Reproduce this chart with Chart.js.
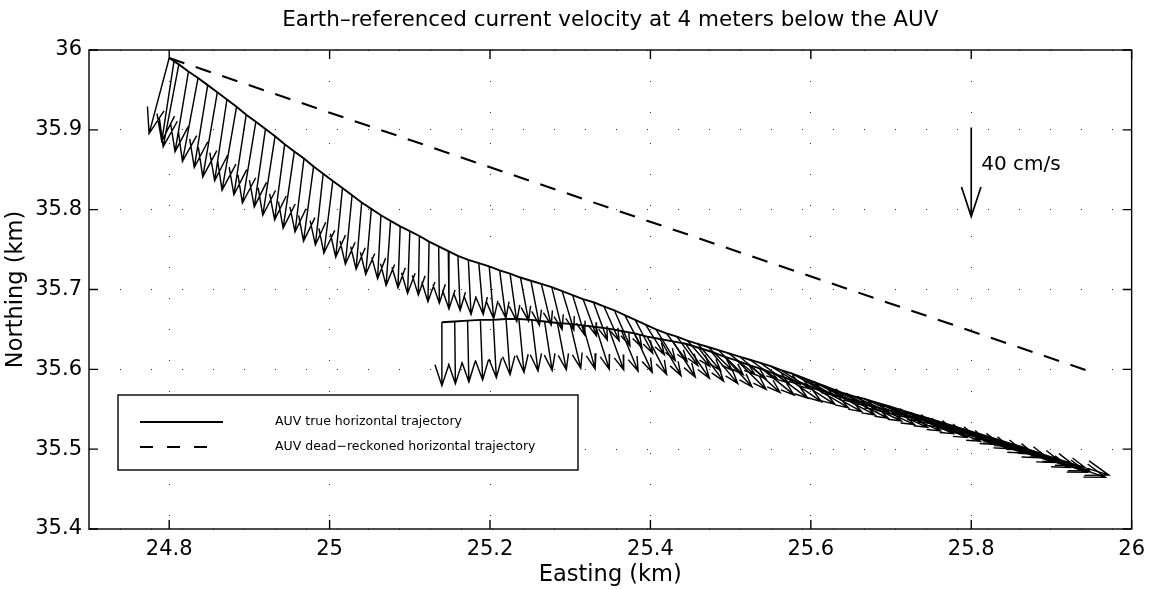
<!DOCTYPE html>
<html>
<head>
<meta charset="utf-8">
<script src="https://cdn.jsdelivr.net/npm/chart.js@4.4.1/dist/chart.umd.min.js"></script>
<style>
  html, body { margin: 0; padding: 0; background: #fff; }
  #wrap { width: 1153px; height: 590px; }
</style>
</head>
<body>
<div id="wrap"><canvas id="chart" width="1153" height="590"></canvas></div>
<script>
// axis ticks
const xTicks = [24.8, 25, 25.2, 25.4, 25.6, 25.8, 26];
const yTicks = [35.4, 35.5, 35.6, 35.7, 35.8, 35.9, 36];
const title = 'Earth\u2013referenced current velocity at 4 meters below the AUV';

// dead-reckoned trajectory (km)
const drEast = [24.800, 25.946];
const drNorth = [35.990, 35.598];

// true trajectory, first leg (km) and current at 4 m below (cm/s)
const leg1East = [24.800, 24.806, 24.812, 24.824, 24.836, 24.848, 24.860, 24.872, 24.884, 24.896, 24.908,
  24.920, 24.932, 24.944, 24.956, 24.968, 24.980, 24.992, 25.004, 25.016, 25.028, 25.040, 25.052, 25.064,
  25.076, 25.088, 25.100, 25.112, 25.124, 25.136, 25.148, 25.160, 25.173, 25.186, 25.199, 25.212, 25.225,
  25.238, 25.251, 25.264, 25.277, 25.290, 25.303, 25.316, 25.329, 25.342, 25.355, 25.368, 25.381, 25.394,
  25.407, 25.420, 25.433, 25.446, 25.459, 25.472, 25.485, 25.498, 25.511, 25.524, 25.537, 25.550, 25.563,
  25.576, 25.589, 25.602, 25.615, 25.628, 25.641, 25.654, 25.667, 25.680, 25.693, 25.706, 25.719, 25.732,
  25.745, 25.758, 25.771, 25.784, 25.797, 25.810, 25.823, 25.836, 25.849, 25.862, 25.875, 25.888];
const leg1North = [35.990, 35.986, 35.982, 35.973, 35.965, 35.956, 35.947, 35.938, 35.929, 35.919, 35.910,
  35.901, 35.892, 35.882, 35.873, 35.864, 35.854, 35.845, 35.836, 35.827, 35.818, 35.809, 35.801, 35.793,
  35.786, 35.779, 35.773, 35.767, 35.760, 35.754, 35.748, 35.742, 35.737, 35.733, 35.729, 35.724, 35.720,
  35.715, 35.711, 35.707, 35.703, 35.698, 35.693, 35.688, 35.684, 35.679, 35.674, 35.668, 35.662, 35.656,
  35.650, 35.645, 35.641, 35.636, 35.632, 35.628, 35.624, 35.620, 35.616, 35.612, 35.608, 35.604, 35.599,
  35.595, 35.590, 35.585, 35.580, 35.575, 35.570, 35.566, 35.563, 35.559, 35.555, 35.551, 35.547, 35.543,
  35.539, 35.535, 35.531, 35.527, 35.523, 35.519, 35.515, 35.511, 35.507, 35.503, 35.498, 35.494];
const leg1U = [-9, -5.5, -7, -6, -7, -6, -6.5, -5.5, -6.5, -5.5, -6,
  -5, -5.5, -4.5, -5, -4, -4.5, -3.5, -4, -3, -3, -2.5, -2.5, -1.5,
  -2, -1, -1, -0.5, -0.5, 0.3, 0.3, 1, 1.2, 2, 2, 2.8, 3,
  3.6, 3.8, 4.4, 4.6, 5.2, 5.4, 6, 6.2, 6.8, 7, 7.6, 7.8, 8.4,
  8.6, 9.2, 9.4, 10, 10.2, 10.8, 11, 11.6, 11.8, 12.4, 12.6, 13.2, 13.3,
  13.8, 13.9, 14.4, 14.5, 15, 15, 15.4, 15.4, 15.6, 15.6, 15.8, 15.8, 16.1,
  16.2, 16.6, 17, 17.6, 18, 19, 20, 21, 22.5, 24, 26, 30];
const leg1V = [-34, -36, -37, -36, -37.5, -37, -38, -36.5, -37.5, -36, -36.5,
  -35, -35.5, -34, -34.5, -33, -33.5, -32, -32.5, -31, -31, -30, -29.5, -28.5,
  -29, -27.5, -28, -26.5, -27, -25.5, -26, -24.5, -24.5, -23, -23.5, -21.5, -21.5,
  -19.5, -20, -18.5, -19, -17.5, -18, -16.5, -17, -15.5, -16, -14.5, -15, -13.5,
  -14, -12.5, -13, -11.5, -12, -10.5, -11, -9.5, -10, -8.8, -9, -8.2, -8.5,
  -7.8, -8, -7.4, -7.6, -7.2, -7.4, -7, -7.2, -6.8, -7, -6.7, -6.9, -6.5,
  -6.7, -6.5, -6.8, -6.7, -7, -7.1, -7.6, -7.7, -8.3, -8.5, -9.1, -9.5];

// true trajectory, return leg (km) and current (cm/s)
const leg2East = [25.892, 25.876, 25.860, 25.844, 25.828, 25.812, 25.796, 25.780, 25.764, 25.748, 25.732,
  25.716, 25.700, 25.684, 25.668, 25.652, 25.636, 25.620, 25.604, 25.588, 25.572, 25.556, 25.540, 25.524,
  25.508, 25.492, 25.476, 25.460, 25.444, 25.428, 25.412, 25.396, 25.380, 25.364, 25.348, 25.332, 25.316,
  25.300, 25.284, 25.268, 25.252, 25.236, 25.220, 25.204, 25.188, 25.172, 25.156, 25.140];
const leg2North = [35.490, 35.495, 35.500, 35.505, 35.510, 35.515, 35.520, 35.525, 35.529, 35.534, 35.539,
  35.543, 35.548, 35.552, 35.557, 35.561, 35.566, 35.571, 35.577, 35.583, 35.588, 35.594, 35.600, 35.605,
  35.611, 35.616, 35.622, 35.627, 35.632, 35.635, 35.638, 35.641, 35.645, 35.648, 35.651, 35.653, 35.655,
  35.657, 35.658, 35.660, 35.662, 35.663, 35.663, 35.662, 35.662, 35.661, 35.660, 35.659];
const leg2U = [27, 24.5, 22.5, 21, 19.8, 18.8, 18, 17.4, 17, 16.7, 16.5,
  16.4, 16.3, 16.2, 16.1, 16, 15.8, 15.6, 15.4, 15.1, 14.8, 14.4, 14, 13.5,
  13, 12.4, 11.8, 11.2, 10.6, 10, 9.4, 8.7, 8, 7.4, 6.7, 6, 5.4,
  4.7, 4, 3.4, 2.8, 2.3, 1.8, 1.4, 1, 0.6, 0.3, 0];
const leg2V = [-9, -8.6, -8.2, -7.8, -7.4, -7.1, -6.9, -6.8, -6.8, -6.9, -7,
  -7.2, -7.4, -7.6, -7.8, -8, -8.3, -8.6, -9, -9.6, -10.2, -10.8, -11.5, -12.2,
  -13, -13.6, -14.3, -15, -15.5, -16, -16.5, -17, -17.5, -18, -18.5, -19, -19.5,
  -20, -21, -22, -23, -24, -25, -26, -27, -27.5, -28, -28.5];

// scale arrow
const refEast = [25.8];
const refNorth = [35.903];
const refU = [0];
const refV = [-40];
const refLabel = '40 cm/s';

const KM_PER_CMS = 0.1115 / 40;

function quiver(east, north, u, v) {
  const pts = [];
  for (let i = 0; i < east.length; i++) {
    const du = u[i] * KM_PER_CMS, dv = v[i] * KM_PER_CMS;
    const tx = east[i] + du, ty = north[i] + dv;
    pts.push({x: east[i], y: north[i]}, {x: tx, y: ty}, {x: tx, y: null});
    pts.push({x: tx - 0.33 * (du + 0.33 * dv), y: ty - 0.33 * (dv - 0.33 * du)},
             {x: tx, y: ty},
             {x: tx - 0.33 * (du - 0.33 * dv), y: ty - 0.33 * (dv + 0.33 * du)},
             {x: tx, y: null});
  }
  return pts;
}

const toXY = (xs, ys) => xs.map((x, i) => ({x: x, y: ys[i]}));

const FONT = '"DejaVu Sans", "Liberation Sans", Arial, sans-serif';
Chart.defaults.font.family = FONT;
Chart.defaults.color = '#000';

// title, frame, inward ticks, legend box and scale arrow label
const framePlugin = {
  id: 'frame',
  afterDraw(chart) {
    const {ctx, chartArea: a, scales: {x, y}} = chart;
    ctx.save();
    ctx.fillStyle = '#000';
    ctx.font = '21.5px ' + FONT;
    ctx.textAlign = 'center';
    ctx.textBaseline = 'middle';
    ctx.fillText(title, (a.left + a.right) / 2, 20);

    ctx.strokeStyle = '#000';
    ctx.lineWidth = 1.4;
    ctx.strokeRect(a.left, a.top, a.right - a.left, a.bottom - a.top);
    ctx.beginPath();
    xTicks.forEach(v => {
      const p = x.getPixelForValue(v);
      ctx.moveTo(p, a.bottom); ctx.lineTo(p, a.bottom - 9);
      ctx.moveTo(p, a.top); ctx.lineTo(p, a.top + 9);
    });
    yTicks.forEach(v => {
      const p = y.getPixelForValue(v);
      ctx.moveTo(a.left, p); ctx.lineTo(a.left + 9, p);
      ctx.moveTo(a.right, p); ctx.lineTo(a.right - 9, p);
    });
    ctx.stroke();

    // legend
    const lx = a.left + 29, ly = a.top + 345;
    ctx.fillStyle = '#fff';
    ctx.fillRect(lx, ly, 460, 75);
    ctx.strokeRect(lx, ly, 460, 75);
    ctx.lineWidth = 1.8;
    ctx.beginPath(); ctx.moveTo(lx + 22, ly + 27); ctx.lineTo(lx + 105, ly + 27); ctx.stroke();
    ctx.setLineDash([13, 14]);
    ctx.lineWidth = 2;
    ctx.beginPath(); ctx.moveTo(lx + 22, ly + 52); ctx.lineTo(lx + 92, ly + 52); ctx.stroke();
    ctx.setLineDash([]);
    ctx.fillStyle = '#000';
    ctx.font = '12.5px ' + FONT;
    ctx.textAlign = 'left';
    ctx.fillText('AUV true horizontal trajectory', lx + 157, ly + 27);
    ctx.fillText('AUV dead\u2212reckoned horizontal trajectory', lx + 157, ly + 52);

    // scale arrow label
    ctx.font = '20px ' + FONT;
    ctx.fillText(refLabel, x.getPixelForValue(refEast[0]) + 10, y.getPixelForValue(refNorth[0]) + 37);
    ctx.restore();
  }
};

const arrowStyle = {
  showLine: true, pointRadius: 0, borderColor: '#000', borderWidth: 1.45,
  spanGaps: false, tension: 0, fill: false
};

new Chart(document.getElementById('chart'), {
  type: 'line',
  data: {
    datasets: [
      Object.assign({label: 'currents', data: quiver(leg1East, leg1North, leg1U, leg1V)}, arrowStyle),
      Object.assign({label: 'currents2', data: quiver(leg2East, leg2North, leg2U, leg2V)}, arrowStyle),
      Object.assign({label: 'scale', data: quiver(refEast, refNorth, refU, refV)}, arrowStyle, {borderWidth: 1.7}),
      {
        label: 'AUV true horizontal trajectory',
        data: toXY(leg1East.concat(leg2East), leg1North.concat(leg2North)),
        showLine: true, pointRadius: 0, borderColor: '#000', borderWidth: 1.9, tension: 0, fill: false
      },
      {
        label: 'AUV dead-reckoned horizontal trajectory',
        data: toXY(drEast, drNorth),
        showLine: true, pointRadius: 0, borderColor: '#000', borderWidth: 2.1,
        borderDash: [16, 12], tension: 0, fill: false
      }
    ]
  },
  options: {
    responsive: false,
    animation: false,
    events: [],
    layout: {padding: {top: 50, right: 17, left: 0, bottom: 0}},
    plugins: {
      legend: {display: false},
      tooltip: {enabled: false},
      title: {display: false}
    },
    scales: {
      x: {
        type: 'linear', min: 24.7, max: 26,
        afterBuildTicks: s => { s.ticks = xTicks.map(v => ({value: v})); },
        afterFit: s => { s.height = 61; },
        ticks: {font: {size: 21}, padding: 8, callback: v => String(v), maxRotation: 0, autoSkip: false},
        grid: {color: '#333', lineWidth: 1, drawTicks: false, borderDash: [1, 30]},
        border: {display: false, dash: [1, 30]},
        title: {display: true, text: 'Easting (km)', font: {size: 22.5}, padding: {top: 0, bottom: 1}}
      },
      y: {
        type: 'linear', min: 35.4, max: 36,
        afterBuildTicks: s => { s.ticks = yTicks.map(v => ({value: v})); },
        afterFit: s => { s.width = 89; },
        ticks: {font: {size: 21}, padding: 7, callback: v => String(v), autoSkip: false},
        grid: {color: '#333', lineWidth: 1, drawTicks: false, borderDash: [1, 30]},
        border: {display: false, dash: [1, 30]},
        title: {display: true, text: 'Northing (km)', font: {size: 22.5}, padding: {top: 3, bottom: 3}}
      }
    }
  },
  plugins: [framePlugin]
});
</script>
</body>
</html>
